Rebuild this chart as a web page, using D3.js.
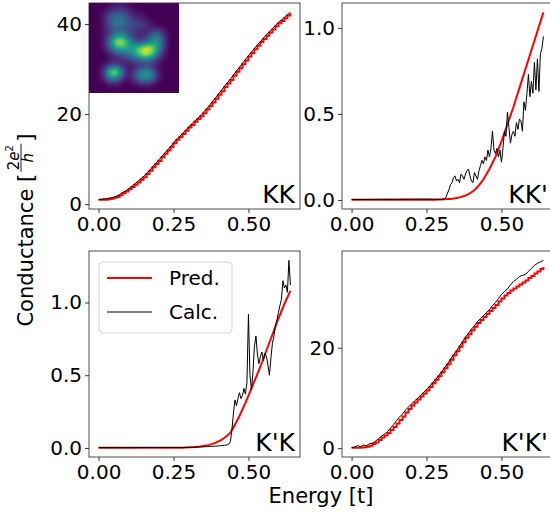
<!DOCTYPE html>
<html>
<head>
<meta charset="utf-8">
<script src="https://cdn.jsdelivr.net/npm/d3@7"></script>
<style>
  body { margin: 0; background: #fff; }
  svg { display: block; font-family: "DejaVu Sans", sans-serif; }
</style>
</head>
<body>
<div id="chart"></div>
<script>
// energies (t)
var energy = [0.00,0.01,0.02,0.03,0.04,0.05,0.06,0.07,0.08,0.09,
  0.10,0.11,0.12,0.13,0.14,0.15,0.16,0.17,0.18,0.19,
  0.20,0.21,0.22,0.23,0.24,0.25,0.26,0.27,0.28,0.29,
  0.30,0.31,0.32,0.33,0.34,0.35,0.36,0.37,0.38,0.39,
  0.40,0.41,0.42,0.43,0.44,0.45,0.46,0.47,0.48,0.49,
  0.50,0.51,0.52,0.53,0.54,0.55,0.56,0.57,0.58,0.59,
  0.60,0.61,0.62,0.63,0.64];
// finer grid for the noisy inter-valley curves
var energyFine = [0.00,0.05,0.10,0.15,0.20,0.25,0.28,
  0.300,0.305,0.310,0.315,0.320,0.325,0.330,0.335,0.340,0.345,
  0.350,0.355,0.360,0.365,0.370,0.375,0.380,0.385,0.390,0.395,
  0.400,0.405,0.410,0.415,0.420,0.425,0.430,0.435,0.440,0.445,
  0.450,0.455,0.460,0.465,0.470,0.475,0.480,0.485,0.490,0.495,
  0.500,0.505,0.510,0.515,0.520,0.525,0.530,0.535,0.540,0.545,
  0.550,0.555,0.560,0.565,0.570,0.575,0.580,0.585,0.590,0.595,
  0.600,0.605,0.610,0.615,0.620,0.625,0.630,0.635,0.640];

var predKK = [1.0,1.0,1.0,1.1,1.2,1.4,1.6,2.0,2.4,2.8,
  3.3,3.8,4.3,4.8,5.4,6.0,6.7,7.4,8.2,8.9,
  9.6,10.4,11.2,11.9,12.7,13.5,14.3,14.9,15.6,16.3,
  17.0,17.6,18.3,18.9,19.5,20.2,21.0,21.8,22.6,23.4,
  24.3,25.1,26.0,26.8,27.6,28.5,29.4,30.2,31.1,31.9,
  32.8,33.6,34.4,35.2,36.0,36.7,37.4,38.1,38.8,39.5,
  40.2,40.7,41.3,41.9,42.4];
var calcKK = [1.0,1.1,1.2,1.2,1.4,1.5,1.8,2.1,2.6,2.9,
  3.4,3.9,4.5,5.0,5.6,6.1,6.9,7.5,8.3,9.0,
  9.8,10.5,11.3,12.0,12.8,13.6,14.4,15.0,15.7,16.4,
  17.1,17.8,18.4,19.0,19.7,20.4,21.2,21.9,22.8,23.6,
  24.5,25.3,26.2,27.0,27.8,28.7,29.6,30.4,31.3,32.1,
  33.0,33.8,34.6,35.4,36.1,36.9,37.6,38.3,39.0,39.7,
  40.4,40.9,41.5,42.1,42.6];

var predKKp = [0.002,0.002,0.002,0.002,0.002,0.002,0.002,0.002,0.002,0.002,
  0.002,0.002,0.002,0.002,0.002,0.002,0.002,0.002,0.002,0.002,
  0.002,0.002,0.002,0.002,0.002,0.002,0.002,0.002,0.002,0.003,
  0.003,0.004,0.005,0.006,0.008,0.011,0.015,0.020,0.025,0.034,
  0.045,0.058,0.075,0.096,0.12,0.15,0.18,0.215,0.25,0.295,
  0.34,0.39,0.44,0.49,0.54,0.595,0.65,0.705,0.76,0.815,
  0.87,0.925,0.98,1.035,1.09];
var calcKKp = [0.003,0.003,0.004,0.004,0.005,0.005,0.004,
  0.003,0.005,0.008,0.015,0.04,0.06,0.09,0.10,0.13,0.14,
  0.11,0.12,0.10,0.15,0.14,0.12,0.15,0.17,0.18,0.14,
  0.11,0.10,0.16,0.14,0.12,0.17,0.20,0.23,0.21,0.25,
  0.23,0.29,0.25,0.30,0.40,0.29,0.27,0.30,0.25,0.29,
  0.22,0.30,0.40,0.37,0.51,0.42,0.33,0.38,0.40,0.37,
  0.45,0.41,0.47,0.46,0.40,0.57,0.52,0.62,0.73,0.60,
  0.69,0.62,0.80,0.64,0.82,0.63,0.85,0.88,0.95];

var predKpK = [0.002,0.002,0.002,0.002,0.002,0.002,0.002,0.002,0.002,0.002,
  0.002,0.002,0.002,0.002,0.002,0.002,0.002,0.002,0.002,0.002,
  0.002,0.002,0.002,0.002,0.002,0.002,0.002,0.002,0.002,0.003,
  0.004,0.005,0.006,0.008,0.010,0.013,0.016,0.021,0.028,0.035,
  0.045,0.056,0.070,0.085,0.105,0.14,0.18,0.22,0.265,0.31,
  0.36,0.41,0.46,0.51,0.56,0.615,0.67,0.725,0.78,0.835,
  0.89,0.94,0.99,1.035,1.08];
var calcKpK = [0.002,0.002,0.002,0.003,0.003,0.003,0.003,
  0.003,0.003,0.004,0.004,0.005,0.005,0.006,0.006,0.007,0.007,
  0.008,0.008,0.009,0.009,0.010,0.010,0.011,0.012,0.012,0.013,
  0.014,0.015,0.016,0.017,0.018,0.020,0.022,0.028,0.045,0.13,
  0.24,0.33,0.29,0.34,0.38,0.34,0.36,0.41,0.37,0.45,
  0.92,0.50,0.40,0.52,0.70,0.77,0.64,0.58,0.63,0.66,
  0.60,0.65,0.63,0.57,0.50,0.62,0.72,0.77,0.84,0.88,
  0.93,0.98,1.02,1.15,1.10,1.12,1.07,1.29,1.12];

var predKpKp = [0.1,0.1,0.1,0.15,0.2,0.3,0.5,0.8,1.1,1.6,
  2.1,2.5,3.0,3.6,4.2,4.9,5.6,6.3,7.1,7.8,
  8.5,9.1,9.7,10.3,10.9,11.5,12.2,12.9,13.6,14.3,
  15.1,15.9,16.7,17.6,18.5,19.3,20.2,21.1,22.0,22.7,
  23.5,24.2,24.9,25.5,26.1,26.7,27.3,27.9,28.5,29.2,
  29.8,30.4,30.9,31.4,31.8,32.2,32.6,33.0,33.4,33.9,
  34.3,34.8,35.2,35.7,36.1];
var calcKpKp = [0.1,0.2,0.5,0.3,0.6,0.5,0.9,1.0,1.4,1.9,
  2.4,2.8,3.3,4.0,4.7,5.5,6.2,6.8,7.6,8.2,
  8.8,9.4,9.9,10.5,11.1,11.7,12.3,13.0,13.7,14.4,
  15.2,16.0,16.8,17.7,18.6,19.4,20.3,21.2,22.1,22.9,
  23.7,24.4,25.2,25.8,26.4,27.0,27.6,28.4,29.0,29.8,
  30.6,31.2,31.7,32.5,33.2,33.6,34.2,34.4,34.6,35.2,
  35.8,36.4,36.8,37.1,37.4];

var panelNames = ["KK", "KK'", "K'K", "K'K'"];
var legendLabels = ["Pred.", "Calc."];
var xTicks = [0, 0.25, 0.5];
var yTicksKK = [0, 20, 40];
var yTicksKKp = [0, 0.5, 1.0];
var yTicksKpK = [0, 0.5, 1.0];
var yTicksKpKp = [0, 20];

// density map shown in the inset (rows top to bottom)
var insetGrid = [
  [0,0,0,0.04,0.07,0.07,0.04,0,0,0,0,0,0,0,0],
  [0,0,0.04,0.14,0.22,0.22,0.14,0.06,0.02,0,0,0,0,0,0],
  [0,0,0.07,0.28,0.4,0.38,0.24,0.13,0.09,0.05,0,0,0,0,0],
  [0,0,0.07,0.27,0.4,0.37,0.27,0.22,0.22,0.13,0.05,0,0,0,0],
  [0,0,0.05,0.17,0.27,0.27,0.2,0.16,0.13,0.09,0.12,0.15,0.05,0,0],
  [0,0,0.05,0.22,0.5,0.56,0.32,0.13,0.09,0.13,0.34,0.45,0.14,0,0],
  [0,0,0.07,0.4,0.9,0.95,0.6,0.32,0.22,0.28,0.5,0.55,0.17,0,0],
  [0,0,0.05,0.28,0.6,0.66,0.6,0.6,0.82,1.0,0.88,0.55,0.14,0,0],
  [0,0,0,0.09,0.2,0.27,0.38,0.55,0.78,1.0,0.78,0.38,0.07,0,0],
  [0,0,0,0.03,0.07,0.11,0.16,0.22,0.33,0.38,0.28,0.11,0.02,0,0],
  [0,0,0.06,0.22,0.28,0.13,0.03,0.06,0.13,0.17,0.13,0.04,0,0,0],
  [0,0,0.17,0.8,0.95,0.4,0.06,0.17,0.45,0.56,0.4,0.09,0,0,0],
  [0,0,0.11,0.45,0.5,0.17,0.03,0.17,0.45,0.56,0.4,0.09,0,0,0],
  [0,0,0,0.06,0.07,0.02,0,0.03,0.09,0.11,0.07,0,0,0,0],
  [0,0,0,0,0,0,0,0,0,0,0,0,0,0,0]
];

var width = 550, height = 512;
var colLeft = [89, 342], rowTop = [3, 251];
var panelW = 211, panelH = 206;

var panels = [
  {name: panelNames[0], pred: predKK, calc: calcKK, calcE: energy, yTicks: yTicksKK, fmt: "d", step: true, col: 0, row: 0},
  {name: panelNames[1], pred: predKKp, calc: calcKKp, calcE: energyFine, yTicks: yTicksKKp, fmt: ".1f", step: false, col: 1, row: 0},
  {name: panelNames[2], pred: predKpK, calc: calcKpK, calcE: energyFine, yTicks: yTicksKpK, fmt: ".1f", step: false, col: 0, row: 1},
  {name: panelNames[3], pred: predKpKp, calc: calcKpKp, calcE: energy, yTicks: yTicksKpKp, fmt: "d", step: true, col: 1, row: 1}
];

var svg = d3.select("#chart").append("svg")
    .attr("width", width)
    .attr("height", height);

function padded(ext) {
  var m = (ext[1] - ext[0]) * 0.05;
  return [ext[0] - m, ext[1] + m];
}

panels.forEach(function(p) {
  var left = colLeft[p.col], top = rowTop[p.row];

  var xExt = d3.extent(energy.concat(p.calcE));
  var yExt = d3.extent(p.pred.concat(p.calc));

  var xScale = d3.scaleLinear().domain(padded(xExt)).range([left, left + panelW]);
  var yScale = d3.scaleLinear().domain(padded(yExt)).range([top + panelH, top]);

  var g = svg.append("g");

  var predLine = d3.line()
      .x(function(d, i) { return xScale(energy[i]); })
      .y(function(d) { return yScale(d); })
      .curve(p.step ? d3.curveStepAfter : d3.curveLinear);

  var calcLine = d3.line()
      .x(function(d, i) { return xScale(p.calcE[i]); })
      .y(function(d) { return yScale(d); });

  g.append("path")
    .datum(p.pred)
    .attr("d", predLine)
    .style("fill", "none")
    .style("stroke", "#ff0000")
    .style("stroke-width", 2);

  g.append("path")
    .datum(p.calc)
    .attr("d", calcLine)
    .style("fill", "none")
    .style("stroke", "#000")
    .style("stroke-width", 1);

  var xAxis = d3.axisBottom(xScale)
      .tickValues(xTicks)
      .tickSize(4)
      .tickSizeOuter(0)
      .tickPadding(4)
      .tickFormat(d3.format(".2f"));

  var yAxis = d3.axisLeft(yScale)
      .tickValues(p.yTicks)
      .tickSize(4)
      .tickSizeOuter(0)
      .tickPadding(3)
      .tickFormat(d3.format(p.fmt));

  g.append("g")
    .attr("class", "x axis")
    .attr("transform", "translate(0," + (top + panelH) + ")")
    .call(xAxis);

  g.append("g")
    .attr("class", "y axis")
    .attr("transform", "translate(" + left + ",0)")
    .call(yAxis);

  g.selectAll(".axis path").remove();
  g.selectAll(".axis line").style("stroke", "#000").style("stroke-width", 0.8);
  g.selectAll(".axis text")
    .style("fill", "#000")
    .style("font-size", "20px")
    .style("font-family", "DejaVu Sans");

  g.append("rect")
    .attr("x", left)
    .attr("y", top)
    .attr("width", panelW)
    .attr("height", panelH)
    .style("fill", "none")
    .style("stroke", "#222")
    .style("stroke-width", 0.8);

  g.append("text")
    .attr("x", left + panelW - 5)
    .attr("y", top + panelH - 6)
    .attr("text-anchor", "end")
    .style("font-size", "25px")
    .style("fill", "#000")
    .text(p.name);

  p.left = left; p.top = top;
});

// inset density map in the first panel
(function() {
  var size = 90;
  var n = insetGrid.length;
  var color = d3.scaleSequential(d3.interpolateViridis).domain([0, 1]);
  var field = new Float32Array(size * size);
  function smooth(t) { return t * t * (3 - 2 * t); }
  for (var py = 0; py < size; py++) {
    var gy = Math.max(0, Math.min(n - 1, (py + 0.5) / size * n - 0.5));
    var j0 = Math.floor(gy), j1 = Math.min(j0 + 1, n - 1), ty = smooth(gy - j0);
    for (var px = 0; px < size; px++) {
      var gx = Math.max(0, Math.min(n - 1, (px + 0.5) / size * n - 0.5));
      var i0 = Math.floor(gx), i1 = Math.min(i0 + 1, n - 1), tx = smooth(gx - i0);
      field[py * size + px] = (insetGrid[j0][i0] * (1 - tx) + insetGrid[j0][i1] * tx) * (1 - ty) +
              (insetGrid[j1][i0] * (1 - tx) + insetGrid[j1][i1] * tx) * ty;
    }
  }
  // soften the grid a little (box blur in value space, two passes)
  d3.blur2({data: field, width: size, height: size}, 2);

  var canvas = document.createElement("canvas");
  canvas.width = size; canvas.height = size;
  var ctx = canvas.getContext("2d");
  var img = ctx.createImageData(size, size);
  for (var k = 0; k < size * size; k++) {
    var c = d3.rgb(color(Math.min(1, field[k])));
    img.data[4 * k] = c.r; img.data[4 * k + 1] = c.g; img.data[4 * k + 2] = c.b; img.data[4 * k + 3] = 255;
  }
  ctx.putImageData(img, 0, 0);
  svg.append("image")
    .attr("x", panels[0].left)
    .attr("y", panels[0].top)
    .attr("width", size)
    .attr("height", size)
    .attr("href", canvas.toDataURL());
})();

// legend in the K'K panel
var lg = svg.append("g")
    .attr("transform", "translate(" + (panels[2].left + 10) + "," + (panels[2].top + 11) + ")");
lg.append("rect")
  .attr("width", 133)
  .attr("height", 71)
  .attr("rx", 4)
  .style("fill", "#fff")
  .style("fill-opacity", 0.8)
  .style("stroke", "#d6d6d6")
  .style("stroke-width", 1);
var legendColors = ["#ff0000", "#000"];
var legendWidths = [2, 1];
legendLabels.forEach(function(name, i) {
  var yy = 16 + i * 34;
  lg.append("line")
    .attr("x1", 8).attr("x2", 53)
    .attr("y1", yy).attr("y2", yy)
    .style("stroke", legendColors[i])
    .style("stroke-width", legendWidths[i]);
  lg.append("text")
    .attr("x", 70)
    .attr("y", yy + 7)
    .style("font-size", "20px")
    .style("fill", "#000")
    .text(name);
});

// shared axis labels
svg.append("text")
  .attr("x", (colLeft[0] + colLeft[1] + panelW) / 2)
  .attr("y", 503)
  .attr("text-anchor", "middle")
  .style("font-size", "21px")
  .style("fill", "#000")
  .text("Energy [t]");

var yl = svg.append("g")
    .attr("transform", "translate(33," + ((rowTop[0] + rowTop[1] + panelH) / 2) + ") rotate(-90)");
var t1 = yl.append("text").style("font-size", "21px").style("fill", "#000").text("Conductance [");
var num = yl.append("text").style("font-size", "15px").style("fill", "#000");
num.append("tspan").text("2");
num.append("tspan").style("font-style", "italic").text("e");
num.append("tspan").style("font-size", "10px").attr("dy", -6).text("2");
var den = yl.append("text").style("font-size", "15px").style("font-style", "italic").style("fill", "#000").text("h");
var t3 = yl.append("text").style("font-size", "21px").style("fill", "#000").text("]");
var w1 = t1.node().getComputedTextLength();
var wn = num.node().getComputedTextLength();
var wd = den.node().getComputedTextLength();
var w3 = t3.node().getComputedTextLength();
var fracW = Math.max(wn, wd) + 3;
var total = w1 + 2 + fracW + 2 + w3;
var x0 = -total / 2;
t1.attr("x", x0).attr("y", 0);
var fx = x0 + w1 + 2;
num.attr("x", fx + (fracW - wn) / 2).attr("y", -14.5);
den.attr("x", fx + (fracW - wd) / 2).attr("y", -0.5);
yl.append("line")
  .attr("x1", fx).attr("x2", fx + fracW)
  .attr("y1", -12).attr("y2", -12)
  .style("stroke", "#000").style("stroke-width", 0.9);
t3.attr("x", fx + fracW + 2).attr("y", 0);
</script>
</body>
</html>
